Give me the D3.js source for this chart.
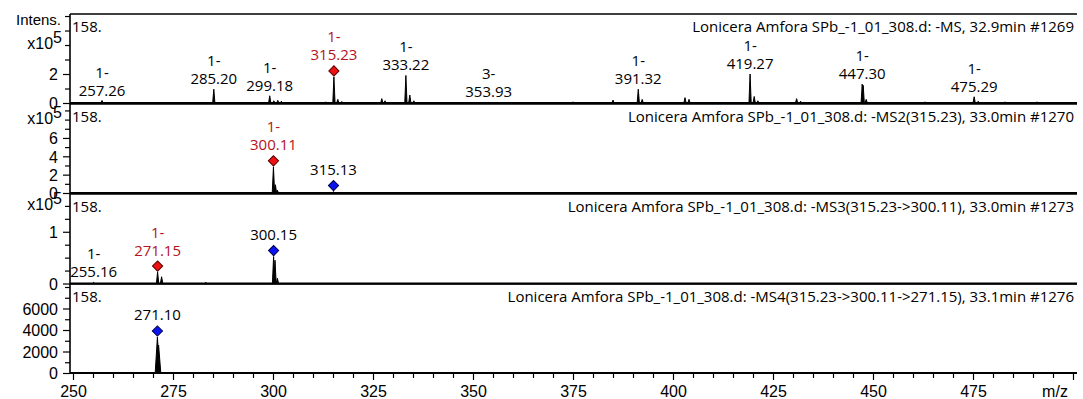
<!DOCTYPE html>
<html>
<head>
<meta charset="utf-8">
<script src="https://cdn.jsdelivr.net/npm/d3@7"></script>
<style>
  html, body { margin: 0; padding: 0; background: #fff; }
  svg { display: block; }
  .ann { font-family: "Open Sans", "Noto Sans", sans-serif; font-size: 15px; }
  .tick-lbl { font-family: "Liberation Sans", Arial, sans-serif; font-size: 16px; }
</style>
</head>
<body>
<svg id="chart" width="1083" height="399"></svg>
<script>
// ---- spectrum data (m/z, intensity) ----
const sampleName = "Lonicera Amfora SPb_-1_01_308.d";
const scanTitles = [
  sampleName + ": -MS, 32.9min #1269",
  sampleName + ": -MS2(315.23), 33.0min #1270",
  sampleName + ": -MS3(315.23->300.11), 33.0min #1273",
  sampleName + ": -MS4(315.23->300.11->271.15), 33.1min #1276"
];
const cornerText = "158.";

// full scan MS
const ms1Mz  = [257.26, 285.20, 299.18, 300.2, 301.2, 302.1, 313.2, 315.23, 316.2, 317.2,
                327.2, 328.0, 333.22, 334.2, 335.2, 353.93, 375.0, 385.0, 391.32, 392.3,
                403.0, 404.0, 419.27, 420.3, 421.2, 430.9, 431.9, 447.30, 447.55, 448.3,
                463.0, 475.29, 476.3, 483.0, 491.0];
const ms1Int = [0.17e5, 0.95e5, 0.50e5, 0.15e5, 0.18e5, 0.12e5, 0.08e5, 1.80e5, 0.25e5, 0.10e5,
                0.30e5, 0.15e5, 1.90e5, 0.55e5, 0.15e5, 0.04e5, 0.08e5, 0.20e5, 0.95e5, 0.25e5,
                0.37e5, 0.25e5, 2.00e5, 0.45e5, 0.15e5, 0.30e5, 0.12e5, 1.30e5, 1.22e5, 0.25e5,
                0.08e5, 0.43e5, 0.12e5, 0.08e5, 0.08e5];
const ms1LabelMz     = [257.26, 285.20, 299.18, 315.23, 333.22, 353.93, 391.32, 419.27, 447.30, 475.29];
const ms1LabelCharge = ["1-", "1-", "1-", "1-", "1-", "3-", "1-", "1-", "1-", "1-"];
const ms1Precursor   = [315.23];
const ms1Fragment    = [];

// MS2 of 315.23
const ms2Mz  = [300.11, 300.6, 301.1, 315.13];
const ms2Int = [2.85e5, 0.9e5, 0.30e5, 0.15e5];
const ms2LabelMz     = [300.11, 315.13];
const ms2LabelCharge = ["1-", ""];
const ms2Precursor   = [300.11];
const ms2Fragment    = [315.13];

// MS3 of 315.23 -> 300.11
const ms3Mz  = [255.16, 271.15, 272.15, 283.2, 300.15, 300.5, 301.1];
const ms3Int = [0.02e5, 0.22e5, 0.13e5, 0.02e5, 0.52e5, 0.45e5, 0.10e5];
const ms3LabelMz     = [255.16, 271.15, 300.15];
const ms3LabelCharge = ["1-", "1-", ""];
const ms3Precursor   = [271.15];
const ms3Fragment    = [300.15];

// MS4 of 315.23 -> 300.11 -> 271.15
const ms4Mz  = [271.10, 271.4];
const ms4Int = [3350, 2600];
const ms4LabelMz     = [271.10];
const ms4LabelCharge = [""];
const ms4Precursor   = [];
const ms4Fragment    = [271.10];

// axis ticks
const mzMajorTicks = [250, 275, 300, 325, 350, 375, 400, 425, 450, 475];
const mzAxisTitle = "m/z";

// ---- layout ----
const svg = d3.select("#chart");
const left = 70, right = 1077;
const x = d3.scaleLinear().domain([249.25, 501]).range([left, right]);

const panels = [
  { mz: ms1Mz, it: ms1Int, lmz: ms1LabelMz, lch: ms1LabelCharge, pre: ms1Precursor, frag: ms1Fragment,
    top: 14, base: 103, ymax: 6.14e5, step: 1e5, labels: [0, 2e5], expAt: 4e5, scale: 1e5, hw: 0.28 },
  { mz: ms2Mz, it: ms2Int, lmz: ms2LabelMz, lch: ms2LabelCharge, pre: ms2Precursor, frag: ms2Fragment,
    top: 104, base: 193, ymax: 9.7e5, step: 1e5, labels: [0, 2e5, 4e5, 6e5], expAt: 8e5, scale: 1e5, hw: 0.3 },
  { mz: ms3Mz, it: ms3Int, lmz: ms3LabelMz, lch: ms3LabelCharge, pre: ms3Precursor, frag: ms3Fragment,
    top: 194, base: 283.5, ymax: 1.73e5, step: 0.25e5, labels: [0, 1e5], expAt: 1.5e5, scale: 1e5, hw: 0.3 },
  { mz: ms4Mz, it: ms4Int, lmz: ms4LabelMz, lch: ms4LabelCharge, pre: ms4Precursor, frag: ms4Fragment,
    top: 284, base: 373, ymax: 8280, step: 1000, labels: [0, 2000, 4000, 6000], expAt: null, scale: 1, hw: 0.55 }
];

const peakLine = d3.line();
const diamond = d3.symbol(d3.symbolSquare, 52);

panels.forEach((p, i) => {
  const y = d3.scaleLinear().domain([0, p.ymax]).range([p.base, p.top]);
  const g = svg.append("g");

  // peaks
  p.mz.forEach((m, k) => {
    const pts = [[x(m - p.hw), y(0)], [x(m), y(p.it[k])], [x(m + p.hw), y(0)]];
    g.append("path").attr("d", peakLine(pts) + "Z")
      .attr("fill", "#000").attr("stroke", "#000").attr("stroke-width", 1)
      .attr("stroke-linejoin", "miter");
  });

  // panel top border
  g.append("line").attr("x1", left).attr("x2", right)
    .attr("y1", p.top).attr("y2", p.top).attr("stroke", "#000").attr("stroke-width", 1.6);
  // baseline
  g.append("line").attr("x1", left).attr("x2", right)
    .attr("y1", y(0)).attr("y2", y(0)).attr("stroke", "#000").attr("stroke-width", 2);

  // y axis ticks
  const tickVals = d3.range(0, p.ymax + 1e-9, p.step);
  const isLabelled = d => p.labels.some(v => Math.abs(v - d) < 1e-6);
  const yAxis = d3.axisLeft(y).tickValues(tickVals).tickSize(5)
    .tickFormat(d => isLabelled(d) ? d3.format("d")(d / p.scale) : "");
  const ya = g.append("g").attr("transform", `translate(${left},0)`).call(yAxis);
  ya.select(".domain").remove();
  ya.selectAll(".tick line").attr("stroke", "#000").attr("stroke-width", 1.2)
    .attr("x2", d => isLabelled(d) ? -7 : -5);
  ya.selectAll(".tick text").attr("x", -12).attr("dy", "0.36em")
    .attr("fill", "#000").style("font-family", "'Liberation Sans', Arial, sans-serif").style("font-size", "16px");

  if (p.expAt !== null) {
    const t = g.append("text").attr("class", "tick-lbl").attr("text-anchor", "end")
      .attr("x", 62).attr("y", y(p.expAt) + 4).attr("fill", "#000");
    t.append("tspan").text("x10");
    t.append("tspan").attr("dy", -6).text("5");
  }

  // corner + title
  g.append("text").attr("class", "ann").attr("x", 72).attr("y", p.top + 18).text(cornerText);
  g.append("text").attr("class", "ann").attr("x", right - 3).attr("y", p.top + 18)
    .attr("text-anchor", "end").text(scanTitles[i]);

  // peak annotations
  p.lmz.forEach((m, k) => {
    const idx = p.mz.indexOf(m);
    const inten = p.it[idx];
    const topY = y(inten);
    const isPre = p.pre.includes(m), isFrag = p.frag.includes(m);
    const marked = isPre || isFrag;
    const color = isPre ? "#b5121b" : "#000";
    if (marked) {
      g.append("path").attr("d", diamond())
        .attr("transform", `translate(${x(m)},${topY - 6}) rotate(45)`)
        .attr("fill", isPre ? "#ee1111" : "#0a14f0")
        .attr("stroke", isPre ? "#5a0000" : "#000050").attr("stroke-width", 1);
    }
    const base2 = topY - (marked ? 22 : 10.5) + 5.5;
    g.append("text").attr("class", "ann").attr("x", x(m)).attr("y", base2)
      .attr("text-anchor", "middle").attr("fill", color).text(m.toFixed(2));
    if (p.lch[k]) {
      g.append("text").attr("class", "ann").attr("x", x(m)).attr("y", base2 - 18)
        .attr("text-anchor", "middle").attr("fill", color).text(p.lch[k]);
    }
  });
});

// y axis line spanning all panels
svg.append("line").attr("x1", left).attr("x2", left).attr("y1", 14).attr("y2", 374)
  .attr("stroke", "#000").attr("stroke-width", 1.6);

// intensity caption
svg.append("text").attr("class", "tick-lbl").attr("x", 61).attr("y", 25)
  .attr("text-anchor", "end").style("font-size", "15px").text("Intens.");

// m/z axis
const xAxis = d3.axisBottom(x).tickValues(d3.range(250, 501, 5)).tickSize(5)
  .tickFormat(d => mzMajorTicks.includes(d) ? d : "");
const xa = svg.append("g").attr("transform", "translate(0,373)").call(xAxis);
xa.select(".domain").remove();
xa.selectAll(".tick line").attr("stroke", "#000").attr("stroke-width", 1.2)
  .attr("y2", d => (d % 25 === 0) ? 7 : 5);
xa.selectAll(".tick text").attr("fill", "#000").attr("y", 13)
  .style("font-family", "'Liberation Sans', Arial, sans-serif").style("font-size", "16px");
svg.append("text").attr("class", "tick-lbl").attr("x", 1055).attr("y", 397)
  .attr("text-anchor", "middle").text(mzAxisTitle);
</script>
</body>
</html>
